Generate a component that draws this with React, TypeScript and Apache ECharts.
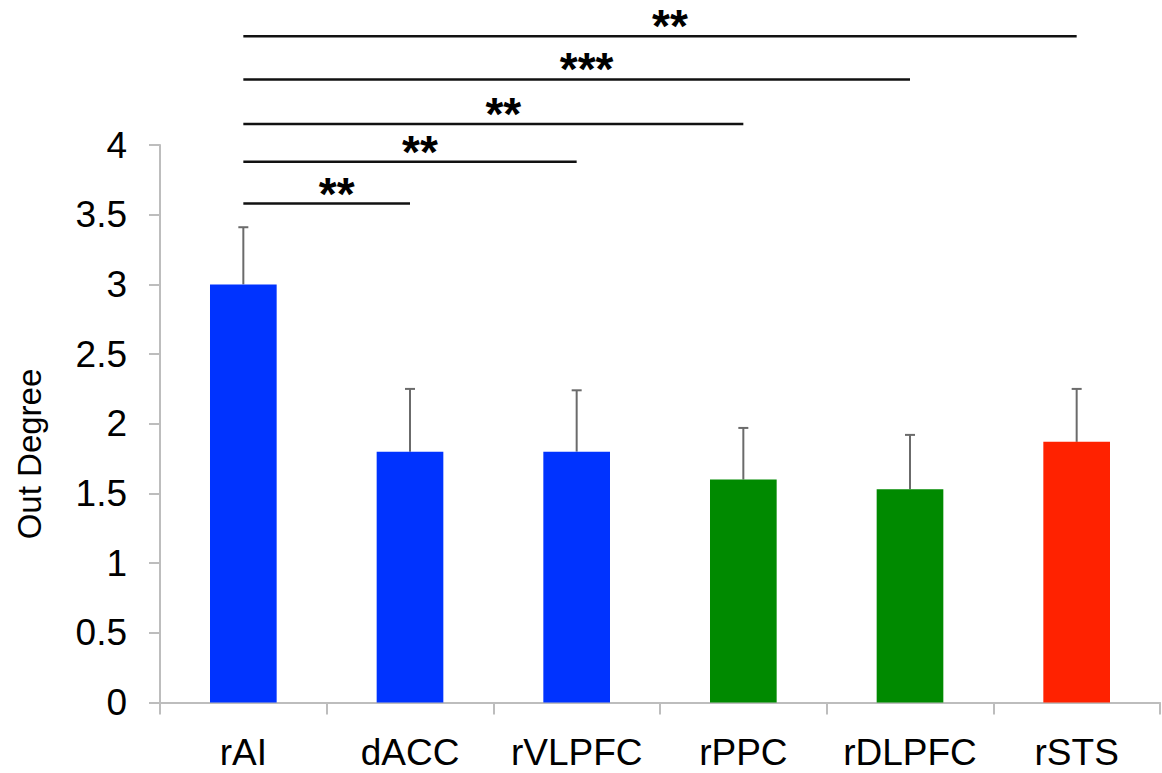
import React, { useEffect, useRef } from "react";
import * as echarts from "echarts";

const categories = ["rAI", "dACC", "rVLPFC", "rPPC", "rDLPFC", "rSTS"];
const meanValues = [3.0, 1.8, 1.8, 1.6, 1.53, 1.87];
const errorTops = [3.41, 2.25, 2.24, 1.97, 1.92, 2.25];
const barColors = ["#0033ff", "#0033ff", "#0033ff", "#008a00", "#008a00", "#ff2200"];
const sigFrom = [0, 0, 0, 0, 0];
const sigTo = [1, 2, 3, 4, 5];
const sigLevels = [3.58, 3.88, 4.15, 4.47, 4.78];
const sigLabels = ["**", "**", "**", "***", "**"];
const yAxisName = "Out Degree";

const FONT = "'Liberation Sans', Arial, Helvetica, sans-serif";

export default function App() {
  const ref = useRef<HTMLDivElement>(null);
  useEffect(() => {
    if (!ref.current) return;
    const chart = echarts.init(ref.current, undefined, { renderer: "svg" });
    const option: any = {
      animation: false,
      backgroundColor: "#ffffff",
      grid: { left: 160, right: 2, top: 145, bottom: 70.5, containLabel: false },
      xAxis: {
        type: "category",
        data: categories,
        axisLine: { lineStyle: { color: "#bdbdbd", width: 2 } },
        axisTick: { show: true, interval: 0, length: 12, lineStyle: { color: "#bdbdbd", width: 2 } },
        axisLabel: { color: "#000", fontSize: 37, fontFamily: FONT, margin: 31, interval: 0, hideOverlap: false },
        splitLine: { show: false },
      },
      yAxis: {
        type: "value",
        min: 0,
        max: 4,
        interval: 0.5,
        axisLine: { show: true, lineStyle: { color: "#bdbdbd", width: 2 } },
        axisTick: { show: true, length: 11, lineStyle: { color: "#bdbdbd", width: 2 } },
        axisLabel: { color: "#000", fontSize: 37, fontFamily: FONT, margin: 33 },
        splitLine: { show: false },
      },
      graphic: [
        {
          type: "text",
          x: 29,
          y: 454,
          rotation: Math.PI / 2,
          style: {
            text: yAxisName,
            fill: "#000",
            font: `33px ${FONT}`,
            textAlign: "center",
            textVerticalAlign: "middle",
          },
        },
      ],
      series: [
        {
          type: "bar",
          barWidth: "40%",
          data: meanValues.map((v, i) => ({ value: v, itemStyle: { color: barColors[i] } })),
        },
        {
          type: "custom",
          clip: false,
          data: meanValues.map((v, i) => [i, v, errorTops[i]]),
          encode: { x: 0, y: [1, 2] },
          renderItem: (params: any, api: any) => {
            const x = api.value(0);
            const p0 = api.coord([x, api.value(1)]);
            const p1 = api.coord([x, api.value(2)]);
            const style = { stroke: "#6b6b6b", lineWidth: 2 };
            return {
              type: "group",
              children: [
                { type: "line", shape: { x1: p0[0], y1: p0[1], x2: p1[0], y2: p1[1] }, style },
                { type: "line", shape: { x1: p1[0] - 5, y1: p1[1], x2: p1[0] + 5, y2: p1[1] }, style },
              ],
            };
          },
        },
        {
          type: "custom",
          clip: false,
          data: sigFrom.map((f, i) => [f, sigTo[i], sigLevels[i]]),
          encode: { x: [0, 1], y: 2 },
          renderItem: (params: any, api: any) => {
            const a = api.coord([api.value(0), api.value(2)]);
            const b = api.coord([api.value(1), api.value(2)]);
            const mid = (a[0] + b[0]) / 2 + 10;
            return {
              type: "group",
              children: [
                {
                  type: "line",
                  shape: { x1: a[0], y1: a[1], x2: b[0], y2: b[1] },
                  style: { stroke: "#111", lineWidth: 2.5 },
                },
                {
                  type: "text",
                  x: mid,
                  y: a[1] - 10,
                  style: {
                    text: sigLabels[params.dataIndex],
                    fill: "#000",
                    font: `bold 46px ${FONT}`,
                    textAlign: "center",
                    textVerticalAlign: "middle",
                  },
                },
              ],
            };
          },
        },
      ],
    };
    chart.setOption(option);
    return () => chart.dispose();
  }, []);
  return <div ref={ref} style={{ width: 1162, height: 773, position: "absolute", left: 0, top: 0 }} />;
}
